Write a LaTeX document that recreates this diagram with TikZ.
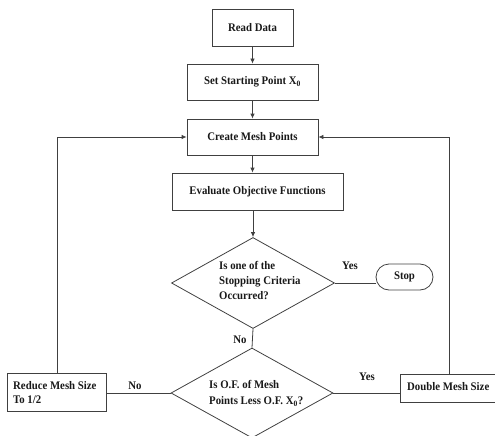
\documentclass[tikz,border=0pt]{standalone}
\usepackage{fontspec}
\setmainfont{Liberation Serif}[FakeStretch=0.93]
\usetikzlibrary{shapes.geometric,arrows.meta}
\begin{document}
\begin{tikzpicture}[x=1pt,y=-1pt,
  every node/.style={font=\fontsize{11.6}{13}\selectfont\bfseries, text=black!90},
  box/.style={draw=black!75, line width=0.8pt, rectangle, inner sep=0pt},
  dia/.style={draw=black!75, line width=0.8pt, diamond, inner sep=0pt},
  ln/.style={draw=black!75, line width=0.8pt},
  arr/.style={ln, -{Latex[length=5pt,width=4.5pt]}},
  lbl/.style={inner sep=0pt}
]
\useasboundingbox (0,0) rectangle (495,436);
\node[box, minimum width=81pt, minimum height=37pt] (read) at (252.5,27.5) {Read Data};
\node[box, minimum width=131pt, minimum height=36pt] (set) at (252.5,82) {Set Starting Point X\textsubscript{0}};
\node[box, minimum width=131pt, minimum height=36pt] (create) at (252.5,137) {Create Mesh Points};
\node[box, minimum width=171pt, minimum height=37pt] (eval) at (257.5,191.5) {Evaluate Objective Functions};
\node[dia, minimum width=163pt, minimum height=91pt] (d1) at (253,283) {};
\node[lbl, anchor=west, align=left, font=\fontsize{11.6}{15}\selectfont\bfseries] (d1t) at (219,280.5) {Is one of the\\Stopping Criteria\\Occurred?};
\node[box, rounded corners=13pt, minimum width=57pt, minimum height=26pt] (stop) at (404.5,277) {Stop};
\node[dia, minimum width=162pt, minimum height=90pt] (d2) at (252,393) {};
\node[lbl, anchor=west, align=left, font=\fontsize{11.6}{16.5}\selectfont\bfseries] (d2t) at (209,393.5) {Is O.F. of Mesh\\Points Less O.F. X\textsubscript{0}?};
\node[box, minimum width=99pt, minimum height=38pt] (reduce) at (56.5,392) {};
\node[lbl, anchor=west, align=left, font=\fontsize{11.6}{14}\selectfont\bfseries] (reducet) at (13,393) {Reduce Mesh Size\\To 1/2};
\node[box, minimum width=100pt, minimum height=28pt] (double) at (450,388) {};
\node[lbl, anchor=west] (doublet) at (407,386.5) {Double Mesh Size};

\draw[arr] (read) -- (set);
\draw[arr] (set) -- (create);
\draw[arr] (create.south) -- (create.south |- eval.north);
\draw[arr] (eval.south -| d1.north) -- (d1.north);
\draw[ln] (d1.east) -- (d1.east -| stop.west);
\draw[ln] (d1.south) -- (d2.north);
\draw[ln] (d2.west) -- (d2.west -| reduce.east);
\draw[ln] (d2.east) -- (d2.east -| double.west);
\coordinate (lc) at (57,137);
\coordinate (rc) at (449,137);
\draw[arr] (reduce.north -| lc) -- (lc) -- (create.west);
\draw[arr] (double.north -| rc) -- (rc) -- (create.east);

\node[lbl] (yes1) at (350,266) {Yes};
\node[lbl] (no1) at (240,340) {No};
\node[lbl] (no2) at (135,386) {No};
\node[lbl] (yes2) at (367,377) {Yes};
\end{tikzpicture}
\end{document}
